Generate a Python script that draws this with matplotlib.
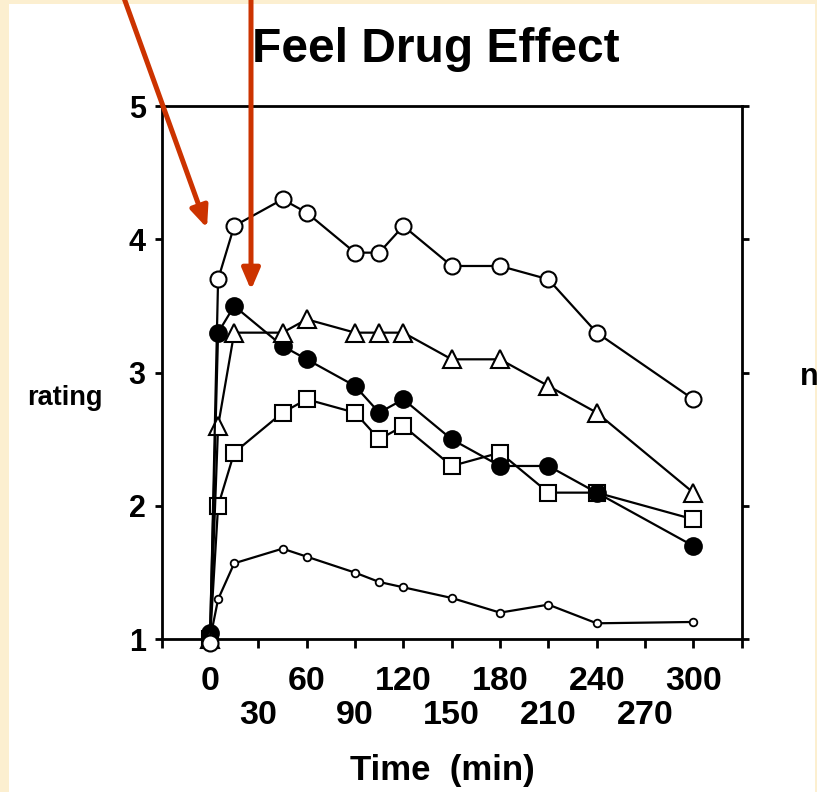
import matplotlib
matplotlib.use("Agg")
import matplotlib.pyplot as plt
import matplotlib.patches as patches

# time points (min) and mean ratings
times = [0, 5, 15, 45, 60, 90, 105, 120, 150, 180, 210, 240, 300]
open_circle = [0.97, 3.7, 4.1, 4.3, 4.2, 3.9, 3.9, 4.1, 3.8, 3.8, 3.7, 3.3, 2.8]
filled_circle = [1.05, 3.3, 3.5, 3.2, 3.1, 2.9, 2.7, 2.8, 2.5, 2.3, 2.3, 2.1, 1.7]
open_triangle = [1.0, 2.6, 3.3, 3.3, 3.4, 3.3, 3.3, 3.3, 3.1, 3.1, 2.9, 2.7, 2.1]
open_square = [1.0, 2.0, 2.4, 2.7, 2.8, 2.7, 2.5, 2.6, 2.3, 2.4, 2.1, 2.1, 1.9]
small_marker = [1.0, 1.3, 1.57, 1.68, 1.62, 1.5, 1.43, 1.39, 1.31, 1.2, 1.26, 1.12, 1.13]

row1_ticks = [0, 60, 120, 180, 240, 300]
row2_ticks = [-30, 30, 90, 150, 210, 270, 330]
row2_labels = ["", "30", "90", "150", "210", "270", ""]
y_ticks = [1, 2, 3, 4, 5]

W, H = 817, 792
RED = "#cc3300"
CREAM = "#fcefd0"
SANS = ["Liberation Sans", "DejaVu Sans"]

fig = plt.figure(figsize=(W / 100, H / 100), dpi=100, facecolor=CREAM)

# white page area on the cream background
page = patches.Rectangle((9 / W, 0), (815 - 9) / W, (H - 4) / H, transform=fig.transFigure,
                         facecolor="white", edgecolor="none", zorder=-1)
fig.patches.append(page)

ax = fig.add_axes([161.7 / W, (H - 639.3) / H, 580 / W, 533.3 / H])
ax.set_facecolor("white")

line_kw = dict(color="black", lw=1.6, clip_on=False, zorder=3)
ax.plot(times, small_marker, marker="o", ms=5.5, mfc="white", mec="black", mew=1.3, **line_kw)
ax.plot(times, open_square, marker="s", ms=12, mfc="white", mec="black", mew=1.5, **line_kw)
ax.plot(times, filled_circle, marker="o", ms=12, mfc="black", mec="black", mew=1.5, **line_kw)
ax.plot(times, open_triangle, marker="^", ms=12.5, mfc="white", mec="black", mew=1.5, **line_kw)
ax.plot(times, open_circle, marker="o", ms=11.5, mfc="white", mec="black", mew=1.5, **line_kw)

ax.set_xlim(-30, 330)
ax.set_ylim(1, 5)

for side in ["left", "right", "top", "bottom"]:
    ax.spines[side].set_linewidth(2)

ax.set_xticks(row1_ticks)
ax.set_xticks(row2_ticks, labels=row2_labels, minor=True)
ax.set_yticks(y_ticks)
ax.tick_params(axis="x", which="major", direction="out", length=6.5, width=2, pad=13)
ax.tick_params(axis="x", which="minor", direction="out", length=6.5, width=2, pad=37.5)
ax.tick_params(axis="y", which="major", direction="out", length=5, width=2, pad=6.5,
               left=True, right=True, labelright=False)

for lbl in ax.get_xticklabels(which="both"):
    lbl.set_fontfamily(SANS)
    lbl.set_fontsize(24.5)
    lbl.set_fontweight("bold")
for lbl in ax.get_yticklabels():
    lbl.set_fontfamily(SANS)
    lbl.set_fontsize(22)
    lbl.set_fontweight("bold")

# texts placed in figure pixels
fig.text(436 / W, (H - 62) / H, "Feel Drug Effect", ha="center", va="baseline",
         fontsize=34.5, fontweight="bold", family=SANS)
fig.text(27 / W, (H - 405) / H, "rating", ha="left", va="baseline",
         fontsize=19.5, fontweight="bold", family=SANS)
fig.text(442 / W, (H - 780) / H, "Time  (min)", ha="center", va="baseline",
         fontsize=25, fontweight="bold", family=SANS)
fig.text(800 / W, (H - 385) / H, "n", ha="left", va="baseline",
         fontsize=22, fontweight="bold", family=SANS)

# red pointer arrows
arrow_kw = dict(arrowstyle="-|>,head_length=0.7,head_width=0.3", color=RED, lw=3.6,
                mutation_scale=18, shrinkA=0, shrinkB=0)
ax.annotate("", xy=(207, H - 228), xytext=(124, H + 2), xycoords="figure pixels",
            textcoords="figure pixels", annotation_clip=False, arrowprops=arrow_kw, zorder=6)
ax.annotate("", xy=(251, H - 290), xytext=(251, H + 2), xycoords="figure pixels",
            textcoords="figure pixels", annotation_clip=False, arrowprops=arrow_kw, zorder=6)

fig.savefig("out.png", dpi=100, facecolor=CREAM)
